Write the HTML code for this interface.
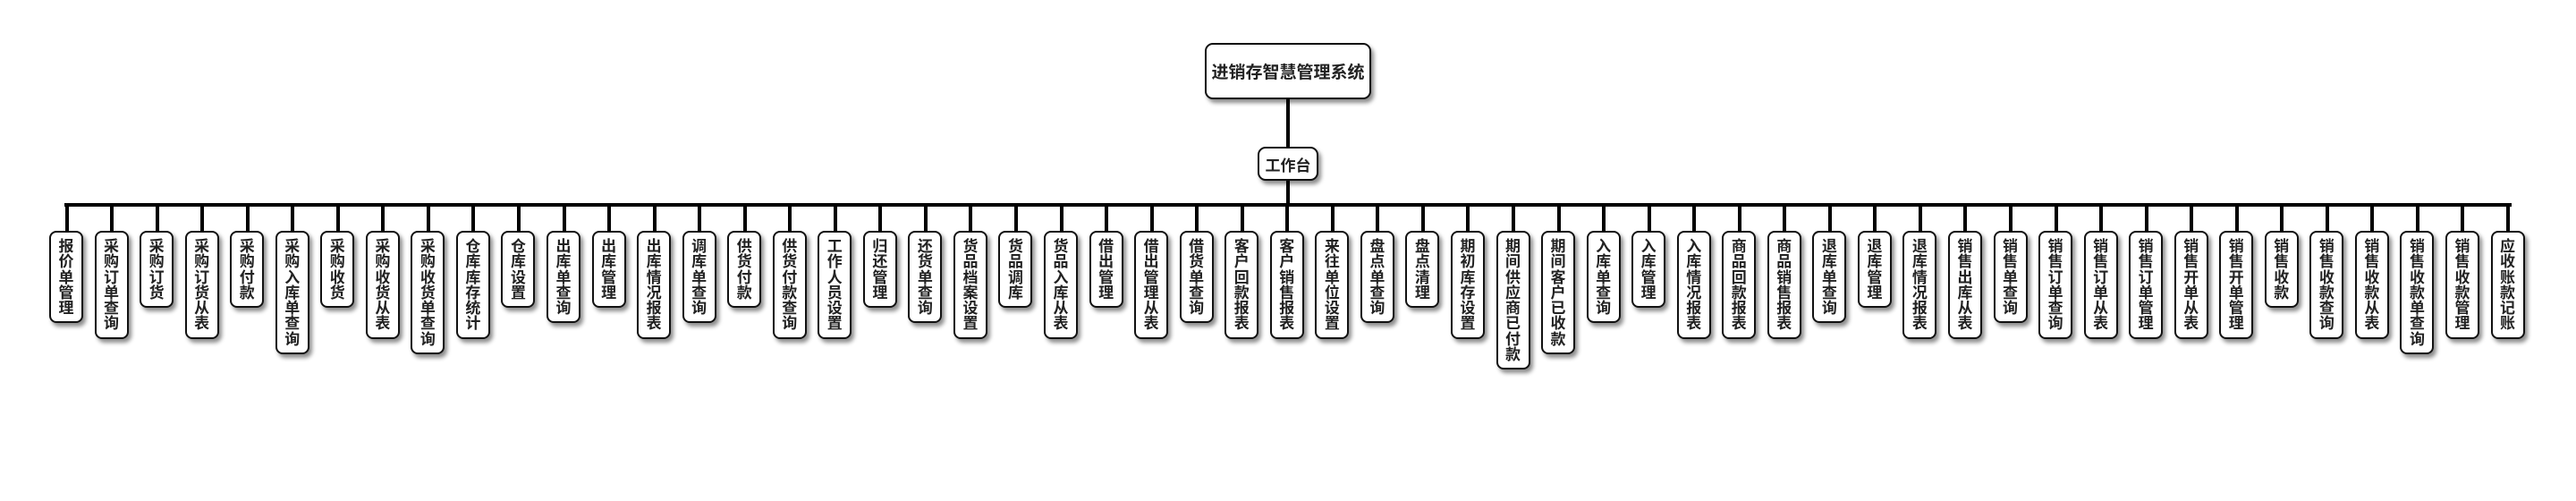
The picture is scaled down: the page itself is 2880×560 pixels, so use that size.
<!DOCTYPE html>
<html><head><meta charset="utf-8"><style>
body{margin:0;width:2880px;height:560px;background:#fff;position:relative;overflow:hidden;font-family:"Liberation Sans","Noto Sans CJK SC",sans-serif;color:#222;}
.box{position:absolute;background:#fff;border:2.5px solid #111;border-radius:9px;box-shadow:3px 4px 5px rgba(0,0,0,.45);box-sizing:border-box;display:flex;align-items:center;justify-content:center;font-weight:bold;}
.line{position:absolute;background:#000;}
.row{position:absolute;left:55px;top:258px;display:flex;column-gap:12.56px;align-items:flex-start;}
.c{position:relative;width:38px;box-sizing:border-box;border:2.5px solid #111;border-radius:8px;background:#fff;box-shadow:3px 4px 5px rgba(0,0,0,.45);padding:7px 0 6px;font-size:17px;line-height:17.3px;text-align:center;font-weight:bold;word-break:break-all;}
.c span{display:block;width:18px;margin:0 auto;}
.c::before{content:"";position:absolute;left:15.5px;top:-31px;width:4px;height:29px;background:#000;}
</style></head><body>
<div class="box" style="left:1347px;top:48px;width:186px;height:63px;font-size:19px;">进销存智慧管理系统</div>
<div class="line" style="left:1438px;top:111px;width:4px;height:53px;"></div>
<div class="box" style="left:1406px;top:164px;width:68px;height:38px;font-size:17px;">工作台</div>
<div class="line" style="left:1438px;top:202px;width:4px;height:28px;"></div>
<div class="line" style="left:72px;top:227px;width:2736px;height:4px;"></div>
<div class="row">
<div class="c"><span>报价单管理</span></div>
<div class="c"><span>采购订单查询</span></div>
<div class="c"><span>采购订货</span></div>
<div class="c"><span>采购订货从表</span></div>
<div class="c"><span>采购付款</span></div>
<div class="c"><span>采购入库单查询</span></div>
<div class="c"><span>采购收货</span></div>
<div class="c"><span>采购收货从表</span></div>
<div class="c"><span>采购收货单查询</span></div>
<div class="c"><span>仓库库存统计</span></div>
<div class="c"><span>仓库设置</span></div>
<div class="c"><span>出库单查询</span></div>
<div class="c"><span>出库管理</span></div>
<div class="c"><span>出库情况报表</span></div>
<div class="c"><span>调库单查询</span></div>
<div class="c"><span>供货付款</span></div>
<div class="c"><span>供货付款查询</span></div>
<div class="c"><span>工作人员设置</span></div>
<div class="c"><span>归还管理</span></div>
<div class="c"><span>还货单查询</span></div>
<div class="c"><span>货品档案设置</span></div>
<div class="c"><span>货品调库</span></div>
<div class="c"><span>货品入库从表</span></div>
<div class="c"><span>借出管理</span></div>
<div class="c"><span>借出管理从表</span></div>
<div class="c"><span>借货单查询</span></div>
<div class="c"><span>客户回款报表</span></div>
<div class="c"><span>客户销售报表</span></div>
<div class="c"><span>来往单位设置</span></div>
<div class="c"><span>盘点单查询</span></div>
<div class="c"><span>盘点清理</span></div>
<div class="c"><span>期初库存设置</span></div>
<div class="c"><span>期间供应商已付款</span></div>
<div class="c"><span>期间客户已收款</span></div>
<div class="c"><span>入库单查询</span></div>
<div class="c"><span>入库管理</span></div>
<div class="c"><span>入库情况报表</span></div>
<div class="c"><span>商品回款报表</span></div>
<div class="c"><span>商品销售报表</span></div>
<div class="c"><span>退库单查询</span></div>
<div class="c"><span>退库管理</span></div>
<div class="c"><span>退库情况报表</span></div>
<div class="c"><span>销售出库从表</span></div>
<div class="c"><span>销售单查询</span></div>
<div class="c"><span>销售订单查询</span></div>
<div class="c"><span>销售订单从表</span></div>
<div class="c"><span>销售订单管理</span></div>
<div class="c"><span>销售开单从表</span></div>
<div class="c"><span>销售开单管理</span></div>
<div class="c"><span>销售收款</span></div>
<div class="c"><span>销售收款查询</span></div>
<div class="c"><span>销售收款从表</span></div>
<div class="c"><span>销售收款单查询</span></div>
<div class="c"><span>销售收款管理</span></div>
<div class="c"><span>应收账款记账</span></div>
</div>
</body></html>
